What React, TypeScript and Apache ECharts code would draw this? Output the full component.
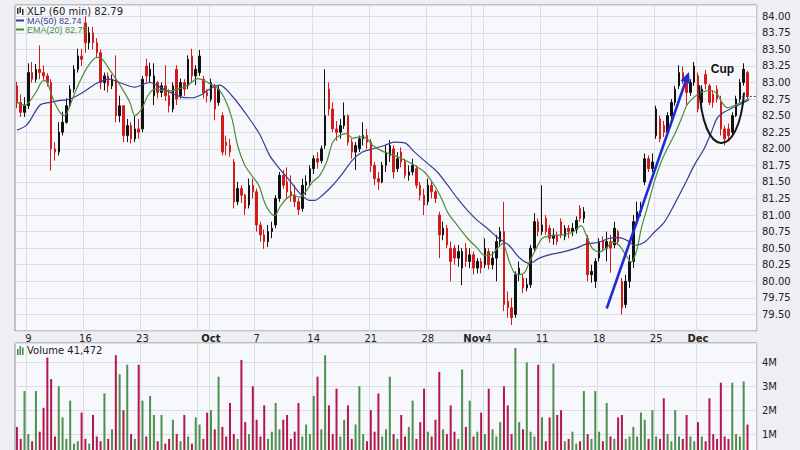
import React, { useEffect, useRef } from "react";
import * as echarts from "echarts";

// ---------- DATA ----------
// One bar per ~1/3 trading day. [open, close, low, high]
const ohlc: number[][] = [
  [82.95,82.70,82.61,83.01],[82.70,82.55,82.48,82.82],[82.55,82.65,82.48,82.78],[82.65,83.15,82.60,83.29],[83.15,83.05,83.00,83.31],
  [83.05,83.20,83.00,83.28],[83.20,83.15,83.05,83.56],[83.15,83.10,83.04,83.26],[83.10,83.00,82.94,83.14],[83.00,82.00,81.67,83.05],
  [82.00,81.95,81.82,82.10],[81.95,82.25,81.90,82.40],[82.25,82.40,82.20,82.56],[82.40,82.65,82.38,82.76],[82.65,82.90,82.62,82.96],
  [82.90,83.20,82.85,83.26],[83.20,83.40,83.15,83.51],[83.40,83.35,83.25,83.51],[83.90,83.60,83.45,84.00],[83.60,83.75,83.50,83.84],
  [83.75,83.60,83.50,83.84],[83.60,83.45,83.37,83.67],[83.45,83.00,82.90,83.50],[83.00,83.10,82.88,83.15],[83.10,82.95,82.85,83.15],
  [82.95,83.05,82.90,83.12],[83.05,82.50,82.40,83.41],[82.50,82.65,82.40,82.80],[82.65,82.20,82.10,82.65],[82.20,82.35,82.10,82.45],
  [82.35,82.15,82.08,82.40],[82.15,82.30,82.10,82.50],[82.30,82.25,82.15,82.45],[82.30,83.05,82.25,83.10],[83.25,83.10,83.00,83.36],
  [83.10,83.20,83.00,83.30],[82.80,83.10,82.66,83.29],[83.00,82.85,82.76,83.02],[82.85,82.95,82.78,83.00],[82.95,82.80,82.72,83.26],
  [82.80,82.65,82.55,82.90],[82.60,82.95,82.55,83.00],[83.20,82.75,82.66,83.26],[82.80,83.00,82.76,83.06],[83.00,82.90,82.80,83.05],
  [82.95,83.35,82.90,83.41],[83.40,83.10,83.00,83.51],[83.10,83.20,82.96,83.26],[83.15,83.40,83.10,83.49],[83.05,82.85,82.76,83.10],
  [82.85,82.80,82.70,82.90],[82.75,83.00,82.71,83.06],[82.95,82.60,82.43,82.98],[82.70,82.90,82.65,82.96],[82.50,81.95,81.90,82.55],
  [82.10,82.05,81.90,82.20],[82.05,81.95,81.88,82.15],[81.80,81.20,81.10,81.85],[81.20,81.40,81.15,81.50],[81.40,81.30,81.18,81.45],
  [81.30,81.10,81.00,81.32],[81.15,81.45,81.10,81.55],[81.45,81.35,81.25,81.55],[81.35,80.85,80.75,81.40],[80.85,80.70,80.60,80.90],
  [80.70,80.60,80.49,80.78],[80.60,80.75,80.52,80.85],[80.75,80.80,80.65,80.90],[80.85,81.25,80.80,81.30],[81.25,81.60,81.20,81.65],
  [81.60,81.45,81.40,81.68],[81.50,81.35,81.25,81.72],[81.35,81.30,81.20,81.60],[81.30,81.20,81.12,81.45],[81.20,81.08,81.00,81.25],
  [81.10,81.45,81.05,81.55],[81.45,81.50,81.30,81.60],[81.50,81.70,81.45,81.75],[81.70,81.85,81.62,81.90],[81.85,81.80,81.70,81.95],
  [81.82,82.00,81.78,82.05],[82.05,82.50,82.00,83.20],[82.90,82.60,82.50,83.00],[82.60,82.30,82.25,82.70],[82.30,82.25,82.12,82.42],
  [82.25,82.35,82.15,82.45],[82.35,82.50,82.30,82.70],[82.50,82.10,82.05,82.52],[82.10,81.95,81.85,82.15],[81.95,82.05,81.68,82.10],
  [82.00,82.15,81.95,82.20],[82.15,82.20,82.05,82.40],[82.20,82.10,82.00,82.30],[82.10,81.75,81.65,82.15],[81.75,81.55,81.45,81.80],
  [81.55,81.50,81.38,81.65],[81.50,81.75,81.48,81.80],[81.75,81.95,81.65,82.05],[81.90,82.05,81.80,82.13],[82.00,81.65,81.55,82.05],
  [81.70,81.85,81.65,81.95],[81.95,81.80,81.72,82.02],[81.80,81.60,81.55,81.85],[81.60,81.65,81.52,81.75],[81.65,81.75,81.60,81.85],
  [81.70,81.45,81.40,81.75],[81.45,81.30,81.22,81.50],[81.30,81.15,81.00,81.40],[81.20,81.45,81.15,81.55],[81.45,81.35,81.25,81.50],
  [81.35,81.25,81.18,81.38],[81.00,80.70,80.35,81.05],[80.70,80.80,80.62,80.90],[80.80,80.55,80.50,80.85],[80.50,80.30,80.00,80.60],
  [80.50,80.35,80.25,80.55],[80.35,80.45,80.22,80.55],[80.20,80.45,79.94,80.50],[80.50,80.30,80.22,80.58],[80.30,80.40,80.20,80.50],
  [80.40,80.20,80.10,80.45],[80.20,80.30,80.12,80.35],[80.30,80.20,80.12,80.35],[80.25,80.50,80.20,80.65],[80.45,80.25,80.18,80.50],
  [80.25,80.35,80.18,80.45],[80.35,80.60,80.00,80.70],[80.60,80.75,80.52,80.82],[80.75,79.65,79.55,81.20],[79.70,79.60,79.45,79.85],
  [79.60,79.45,79.34,79.75],[79.50,80.10,79.45,80.15],[80.10,80.20,80.00,80.30],[80.05,79.90,79.82,80.10],[79.90,79.95,79.85,80.05],
  [79.95,80.50,79.90,80.55],[80.50,80.90,80.45,81.03],[80.90,80.75,80.68,80.95],[80.75,80.85,80.70,81.45],[80.95,80.75,80.70,81.00],
  [80.80,80.65,80.58,80.85],[80.65,80.70,80.55,80.80],[80.70,80.60,80.55,80.75],[80.90,80.70,80.65,80.95],[80.68,80.80,80.62,80.85],
  [80.80,80.75,80.65,80.85],[80.75,80.80,80.68,80.88],[80.78,80.92,80.72,80.98],[81.10,80.95,80.90,81.15],[80.95,81.05,80.88,81.12],
  [80.65,80.10,80.00,80.70],[80.10,80.15,79.98,80.25],[80.00,80.30,79.90,80.35],[80.35,80.60,80.30,80.65],[80.62,80.50,80.45,80.68],
  [80.50,80.60,80.30,80.75],[80.60,80.50,80.13,80.70],[80.55,80.80,80.50,80.90],[80.75,80.60,80.55,80.78],[80.00,79.60,79.50,80.05],
  [79.65,80.00,79.60,80.10],[80.00,80.30,79.90,80.40],[80.30,80.90,80.20,81.00],[80.90,81.05,80.85,81.20],[81.05,81.10,80.98,81.20],
  [81.50,81.85,81.45,81.93],[81.85,81.70,81.65,81.90],[81.70,81.80,81.65,81.93],[82.20,82.60,82.15,82.65],[82.45,82.15,82.10,82.50],
  [82.35,82.25,82.18,82.42],[82.25,82.50,82.20,82.55],[82.50,82.70,82.45,82.75],[82.70,82.90,82.65,82.95],[82.95,83.15,82.90,83.26],
  [83.15,83.05,82.98,83.24],[83.05,82.85,82.66,83.08],[82.85,83.00,82.80,83.05],[83.00,83.25,82.95,83.31],[83.10,82.60,82.55,83.15],
  [82.70,82.90,82.65,82.96],[83.12,82.98,82.90,83.19],[82.95,82.70,82.66,82.98],[82.82,82.70,82.62,82.88],[82.90,82.75,82.70,82.96],
  [82.70,82.30,82.20,82.80],[82.30,82.15,82.05,82.35],[82.30,82.20,82.12,82.38],[82.25,82.50,82.20,82.55],[82.50,82.75,82.48,82.80],
  [82.75,83.00,82.70,83.05],[83.00,83.20,82.95,83.29],[83.15,82.79,82.75,83.18],
];

// Volume per bar, in millions
const volumes: number[] = [
  1.3,0.8,2.8,1.0,0.7,2.8,1.1,2.1,4.2,3.3,
  0.9,3.0,1.7,0.8,2.4,0.6,0.7,1.9,0.8,0.6,
  1.8,0.9,0.7,2.7,0.8,1.2,4.3,3.5,2.0,3.9,
  1.0,0.8,3.9,2.4,0.9,2.6,1.8,0.7,1.8,0.6,
  0.8,1.6,1.0,0.7,1.8,0.9,0.6,1.7,1.4,0.8,
  1.9,2.0,1.2,3.4,1.3,0.9,2.3,1.0,0.8,4.1,
  1.5,1.0,3.0,1.6,0.9,2.2,0.8,1.1,2.3,1.2,
  1.6,1.8,0.8,1.1,2.3,0.9,1.4,1.0,2.6,3.4,
  1.2,4.3,2.2,1.0,2.9,0.9,1.6,2.2,0.8,1.4,
  3.0,1.0,0.7,2.0,1.1,2.7,0.9,1.2,3.4,1.0,
  0.8,1.8,0.9,1.3,2.4,0.8,1.5,2.9,1.1,0.9,
  1.6,3.6,1.2,1.0,2.2,1.1,0.8,3.7,1.3,2.4,
  0.9,1.1,1.9,1.0,2.9,1.2,0.9,1.5,3.0,2.2,
  1.0,4.6,1.5,1.2,4.0,1.1,0.9,3.9,1.7,0.7,
  1.7,3.95,1.8,2.0,0.7,0.8,1.1,0.6,0.7,2.8,
  1.0,0.8,2.8,1.1,0.7,2.3,0.9,0.8,1.7,1.8,
  0.8,0.9,1.3,0.9,1.9,1.6,0.8,2.0,0.9,0.8,
  2.5,1.0,0.7,2.0,0.9,0.8,1.8,0.9,0.7,1.5,
  0.9,0.7,2.5,1.0,0.8,3.15,0.9,0.8,3.15,1.0,
  0.9,3.2,1.4,
];

// MA(50): [bar position, price]
const ma50Points: number[][] = [
  [0,82.28],[2.6,82.36],[6.1,82.66],[8.7,82.7],[11.3,82.73],[13.9,82.75],[17.3,82.85],[21,82.99],[24.4,83.05],[27,83.0],
  [31,82.93],[34.9,83.0],[37.6,82.93],[40.7,82.84],[43.3,82.78],[46,82.77],[48.6,82.82],[51.2,82.92],[53.3,82.96],[56.5,82.8],
  [59.9,82.55],[63.8,82.22],[66.4,81.9],[69,81.7],[71.7,81.52],[74.3,81.33],[76.9,81.22],[78.2,81.22],[80.3,81.3],[83,81.45],
  [85.6,81.63],[88.2,81.83],[90.8,81.95],[93.5,82.0],[96.6,82.05],[99.2,82.1],[101.9,82.09],[104.5,81.95],[107.9,81.78],[110.5,81.65],
  [113.2,81.45],[115.8,81.25],[118.4,81.07],[121,80.92],[123.6,80.8],[126.3,80.66],[128.1,80.59],[129.4,80.54],[132,80.36],[134.7,80.27],
  [137.3,80.35],[139.9,80.4],[143.3,80.44],[147,80.5],[149.6,80.56],[153,80.59],[155.7,80.65],[158.3,80.66],[160.9,80.6],[162.2,80.54],
  [164.9,80.59],[167.5,80.74],[170.1,80.89],[172.7,81.15],[175.4,81.45],[178,81.75],[180.6,82.0],[182.5,82.25],[184,82.46],[185.8,82.55],
  [188.5,82.63],[191.1,82.7],[192.4,82.74],
];

// EMA(20): [bar position, price]
const ema20Points: number[][] = [
  [0,82.7],[2.1,82.66],[3.4,82.72],[5.2,82.87],[6.9,83.03],[7.8,83.02],[9.5,82.75],[11.3,82.55],[12.6,82.5],[13.9,82.65],
  [15.8,82.92],[18.4,83.22],[21,83.38],[22.3,83.36],[24.4,83.19],[27.1,82.96],[29.7,82.7],[31,82.5],[32.8,82.6],[34.4,82.8],
  [36.2,82.9],[39.7,82.87],[42.3,82.9],[44.9,82.96],[47.5,83.06],[50.2,83.0],[52.8,82.91],[54.6,82.76],[56.5,82.46],[58,82.05],
  [59.9,81.75],[61.7,81.6],[63,81.5],[63.8,81.42],[65.1,81.19],[66.4,81.05],[67.7,80.99],[69.1,81.12],[70.9,81.25],[72.5,81.3],
  [74.3,81.27],[76.1,81.37],[77.7,81.5],[79.6,81.6],[81.4,81.8],[83,82.1],[84.8,82.2],[86.6,82.23],[88.2,82.16],[90.1,82.18],
  [91.9,82.16],[93.5,82.05],[96.6,81.95],[99.2,81.9],[101.9,81.83],[104.5,81.75],[107.1,81.65],[109.7,81.45],[111.6,81.25],[113.2,81.04],
  [115.8,80.84],[118.4,80.65],[121,80.5],[122.9,80.39],[124.7,80.4],[126.3,80.5],[127.6,80.57],[129.4,80.3],[130.7,80.13],[132,80.1],
  [133.4,80.13],[134.7,80.29],[136.5,80.5],[138.1,80.65],[140.7,80.69],[143.3,80.7],[146,80.74],[148.3,80.84],[149.6,80.7],[151.2,80.5],
  [153,80.44],[154.9,80.5],[156.5,80.59],[158.3,80.54],[160.1,80.39],[161.4,80.29],[162.8,80.45],[164.1,80.8],[165.6,81.1],[167.5,81.5],
  [169.3,81.8],[170.9,82.0],[172.7,82.2],[174.6,82.45],[176.1,82.66],[178,82.78],[179.8,82.85],[182.4,82.88],[184,82.83],[185.3,82.7],
  [186.7,82.62],[188.5,82.65],[190.3,82.7],[192.4,82.76],
];

const BAR_COUNT = 195;
// week / month gridlines (bar boundary index)
const gridLineIndex = [3, 18, 33, 48, 51, 63, 78, 93, 108, 120, 123, 138, 153, 168, 179];
// x-axis tick labels and the bar they sit on
const tickLabelIndex = [3, 18, 33, 51, 63, 78, 93, 108, 121, 138, 153, 168, 179];
const tickLabels = ["9", "16", "23", "Oct", "7", "14", "21", "28", "Nov4", "11", "18", "25", "Dec"];

const legendPrice = "XLP (60 min) 82.79";
const legendMA = "MA(50) 82.74";
const legendEMA = "EMA(20) 82.75";
const legendVolume = "Volume 41,472";
const lastPrice = 82.79;

// annotations in data space: [bar position, price]
const trendLine = [[155.0, 79.59], [176.6, 83.16]];
const cupCurve = [[179.3, 82.96], [180.1, 81.8], [189.8, 81.83], [191.1, 82.85]];
const cupLabel = [185.4, 83.2];

// ---------- STYLE ----------
const RED = "#d21b1b";
const BLACK = "#111111";
const VOL_RED = "#b3174c";
const VOL_GREEN = "#4e8e4e";
const MA_COLOR = "#3b3b8c";
const EMA_COLOR = "#4b8c3a";
const GRID_LINE = "#dcdee6";
const PANEL_BG = "#f7f8fb";
const PAGE_BG = "#eeeff2";
const BORDER = "#8e8e98";
const FONT = "DejaVu Sans";

export default function App() {
  const ref = useRef<HTMLDivElement>(null);

  useEffect(() => {
    const chart = echarts.init(ref.current!, null, { renderer: "svg" });
    const categories = Array.from({ length: BAR_COUNT }, (_, i) => String(i));
    const labelPos = (i: number) => tickLabelIndex.indexOf(i);

    const volumeData = volumes.map((v, i) => ({
      value: v,
      itemStyle: { color: ohlc[i][1] >= ohlc[i][0] ? VOL_GREEN : VOL_RED },
    }));

    const splitX = {
      show: true,
      interval: (i: number) => gridLineIndex.indexOf(i) >= 0,
      lineStyle: { color: GRID_LINE, width: 1 },
    };

    const option: any = {
      animation: false,
      backgroundColor: PAGE_BG,
      grid: [
        { left: 15, top: 5, width: 742, height: 326, show: true, backgroundColor: PANEL_BG, borderColor: BORDER, borderWidth: 1 },
        { left: 15, top: 343, width: 742, height: 115, show: true, backgroundColor: PANEL_BG, borderColor: BORDER, borderWidth: 1 },
      ],
      xAxis: [
        {
          type: "category", gridIndex: 0, data: categories, boundaryGap: true,
          axisLine: { show: false }, axisTick: { show: false },
          axisLabel: {
            interval: (i: number) => labelPos(i) >= 0,
            formatter: (_v: string, i: number) => {
              const k = labelPos(i);
              const lab = k >= 0 ? tickLabels[k] : "";
              const m = lab.match(/^([A-Z][a-z]+)(.*)$/);
              return m ? `{b|${m[1]}}${m[2]}` : lab;
            },
            margin: 2, fontSize: 10, color: "#222", fontFamily: FONT,
            rich: { b: { fontWeight: "bold", fontSize: 10, fontFamily: FONT, color: "#222" } },
          },
          splitLine: splitX,
        },
        {
          type: "category", gridIndex: 1, data: categories, boundaryGap: true,
          axisLine: { show: false }, axisTick: { show: false }, axisLabel: { show: false },
          splitLine: splitX,
        },
        { type: "value", gridIndex: 0, min: -0.5, max: BAR_COUNT - 0.5, show: false },
      ],
      yAxis: [
        {
          type: "value", gridIndex: 0, position: "right", min: 79.25, max: 84.17, interval: 0.25,
          axisLine: { show: false }, axisTick: { show: false },
          axisLabel: {
            formatter: (v: number) => (v < 79.4 || v > 84.05 ? "" : v.toFixed(2)),
            fontSize: 10, color: "#222", fontFamily: FONT, margin: 5,
          },
          splitLine: { show: true, lineStyle: { color: GRID_LINE, width: 1 } },
        },
        {
          type: "value", gridIndex: 1, position: "right", min: 0, max: 4.81, interval: 1,
          axisLine: { show: false }, axisTick: { show: false },
          axisLabel: {
            formatter: (v: number) => (v < 0.5 || v > 4.5 ? "" : `${Math.round(v)}M`),
            fontSize: 10, color: "#222", fontFamily: FONT, margin: 5,
          },
          splitLine: { show: true, lineStyle: { color: GRID_LINE, width: 1 } },
        },
      ],
      series: [
        {
          type: "candlestick", xAxisIndex: 0, yAxisIndex: 0, data: ohlc, barWidth: 2,
          itemStyle: { color: BLACK, color0: RED, borderColor: BLACK, borderColor0: RED, borderWidth: 1 },
        },
        {
          type: "line", xAxisIndex: 2, yAxisIndex: 0, data: ma50Points, showSymbol: false, smooth: 0.3,
          lineStyle: { color: MA_COLOR, width: 1.2 }, z: 3,
        },
        {
          type: "line", xAxisIndex: 2, yAxisIndex: 0, data: ema20Points, showSymbol: false, smooth: 0.3,
          lineStyle: { color: EMA_COLOR, width: 1.2 }, z: 3,
        },
        {
          type: "bar", xAxisIndex: 1, yAxisIndex: 1, data: volumeData, barWidth: 2,
        },
      ],
    };
    chart.setOption(option);

    const px = (p: number[]) => chart.convertToPixel({ seriesIndex: 1 }, p) as number[];

    const t0 = px(trendLine[0]);
    const t1 = px(trendLine[1]);
    const dx = t1[0] - t0[0];
    const dy = t1[1] - t0[1];
    const len = Math.sqrt(dx * dx + dy * dy);
    const ux = dx / len, uy = dy / len;
    const nx = -uy, ny = ux;
    const head = 11, halfW = 5;
    const base = [t1[0] - ux * head, t1[1] - uy * head];

    const c0 = px(cupCurve[0]);
    const c1 = px(cupCurve[1]);
    const c2 = px(cupCurve[2]);
    const c3 = px(cupCurve[3]);
    const cl = px(cupLabel);
    const lp0 = px([190.5, lastPrice]);
    const lp1 = px([BAR_COUNT - 0.5, lastPrice]);

    const txt = (text: string, x: number, y: number, fill: string, font: string, lh: number) => ({
      type: "text", x, y, silent: true, z: 100,
      style: {
        text, fill, font, lineHeight: lh,
        textAlign: "left", textVerticalAlign: "middle", align: "left", verticalAlign: "middle",
      },
    });

    chart.setOption({
      graphic: [
        // price legend
        { type: "rect", shape: { x: 17, y: 8, width: 1.5, height: 6 }, style: { fill: "#333" }, z: 100 },
        { type: "rect", shape: { x: 19.5, y: 7, width: 1.5, height: 6 }, style: { fill: "#333" }, z: 100 },
        { type: "rect", shape: { x: 22, y: 9, width: 1.5, height: 6 }, style: { fill: "#333" }, z: 100 },
        txt(legendPrice, 27, 11.5, "#222", `10px "${FONT}"`, 9),
        { type: "line", shape: { x1: 16, y1: 20.5, x2: 24, y2: 20.5 }, style: { stroke: MA_COLOR, lineWidth: 2 }, z: 100 },
        txt(legendMA, 27, 20.7, MA_COLOR, `9px "Liberation Sans"`, 8),
        { type: "line", shape: { x1: 16, y1: 29.5, x2: 24, y2: 29.5 }, style: { stroke: EMA_COLOR, lineWidth: 2 }, z: 100 },
        txt(legendEMA, 27, 29.7, EMA_COLOR, `9px "Liberation Sans"`, 8),
        // volume legend
        { type: "rect", shape: { x: 17, y: 349, width: 1.6, height: 6 }, style: { fill: VOL_GREEN }, z: 100 },
        { type: "rect", shape: { x: 19.5, y: 346, width: 1.6, height: 9 }, style: { fill: VOL_GREEN }, z: 100 },
        { type: "rect", shape: { x: 22, y: 347.5, width: 1.6, height: 7.5 }, style: { fill: VOL_GREEN }, z: 100 },
        txt(legendVolume, 27, 350.5, "#222", `10px "${FONT}"`, 11),
        // trend line with arrow
        {
          type: "line", z: 90,
          shape: { x1: t0[0], y1: t0[1], x2: base[0], y2: base[1] },
          style: { stroke: "#1f2bd6", lineWidth: 2.6 },
        },
        {
          type: "polygon", z: 90,
          shape: { points: [[t1[0], t1[1]], [base[0] + nx * halfW, base[1] + ny * halfW], [base[0] - nx * halfW, base[1] - ny * halfW]] },
          style: { fill: "#1f2bd6" },
        },
        // cup
        {
          type: "bezierCurve", z: 90,
          shape: { x1: c0[0], y1: c0[1], cpx1: c1[0], cpy1: c1[1], cpx2: c2[0], cpy2: c2[1], x2: c3[0], y2: c3[1] },
          style: { stroke: "#151515", lineWidth: 2, fill: null },
        },
        {
          type: "text", x: cl[0], y: cl[1], z: 100,
          style: { text: "Cup", fill: "#111", font: 'bold 12px "Liberation Sans"', textAlign: "center", textVerticalAlign: "middle", align: "center", verticalAlign: "middle" },
        },
        // last price marker
        {
          type: "line", z: 90,
          shape: { x1: lp0[0], y1: lp0[1], x2: lp1[0], y2: lp1[1] },
          style: { stroke: "#444", lineWidth: 1, lineDash: [2, 2] },
        },
      ],
    });

    return () => chart.dispose();
  }, []);

  return (
    <div
      ref={ref}
      style={{ position: "fixed", left: 0, top: 0, width: 800, height: 460 }}
    />
  );
}
